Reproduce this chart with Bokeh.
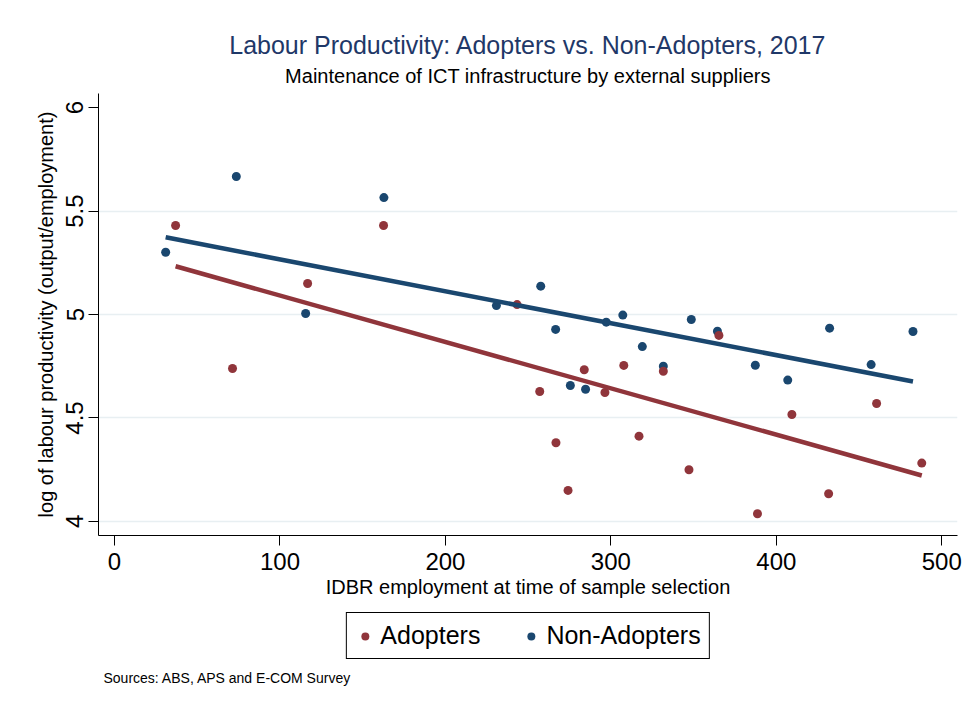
import numpy as np
from bokeh.plotting import figure
from bokeh.layouts import column
from bokeh.models import Range1d, FixedTicker, Legend, LegendItem, Title, Label
from bokeh.embed import file_html
from bokeh.resources import INLINE

# ---------------- data ----------------
adopters_emp = [36.9, 71.3, 116.7, 162.6, 243.3, 257.0, 266.8, 274.1, 283.9, 296.4,
                307.8, 317.0, 331.7, 347.2, 365.3, 388.6, 409.4, 431.6, 460.6, 487.9]
adopters_lp = [5.430, 4.739, 5.150, 5.430, 5.048, 4.628, 4.380, 4.150, 4.733, 4.623,
               4.754, 4.412, 4.726, 4.250, 4.899, 4.037, 4.517, 4.134, 4.570, 4.282]

nonadopters_emp = [30.9, 73.6, 115.5, 162.8, 230.8, 257.6, 266.6, 275.5, 284.7, 297.2,
                   307.2, 319.0, 331.7, 348.6, 364.4, 387.3, 406.9, 432.2, 457.3, 482.6]
nonadopters_lp = [5.301, 5.667, 5.005, 5.565, 5.043, 5.137, 4.928, 4.657, 4.639, 4.963,
                  4.997, 4.845, 4.750, 4.976, 4.919, 4.755, 4.683, 4.934, 4.758, 4.918]

# fitted-line values read at the ends of each series' employment range
adopters_fit_lp = [5.233, 4.222]
nonadopters_fit_lp = [5.373, 4.676]

x_ticks = [0, 100, 200, 300, 400, 500]
x_tick_labels = ["0", "100", "200", "300", "400", "500"]
y_ticks = [4, 4.5, 5, 5.5, 6]
y_tick_labels = ["4", "4.5", "5", "5.5", "6"]
y_grid_ticks = [4, 4.5, 5, 5.5]

series_names = ["Adopters", "Non-Adopters"]
main_title = "Labour Productivity: Adopters vs. Non-Adopters, 2017"
sub_title = "Maintenance of ICT infrastructure by external suppliers"
x_label = "IDBR employment at time of sample selection"
y_label = "log of labour productivity (output/employment)"
source_note = "Sources: ABS, APS and E-COM Survey"

# ---------------- styles ----------------
FONT = "Liberation Sans"
RED = "#90353b"
BLUE = "#1a476f"
TITLE_COL = "#1f3868"
GRID_COL = "#e8eff2"

p = figure(width=971, height=607,
           x_range=Range1d(-9.7, 509.5), y_range=Range1d(3.932, 6.068),
           output_backend="svg", toolbar_location=None, title=None,
           min_border_left=98, min_border_right=14,
           min_border_top=93, min_border_bottom=72)
p.outline_line_color = None
p.background_fill_color = "white"
p.border_fill_color = "white"

# scatter points
r_blue = p.scatter(nonadopters_emp, nonadopters_lp, size=9, color=BLUE, line_color=None)
r_red = p.scatter(adopters_emp, adopters_lp, size=9, color=RED, line_color=None)

# fitted lines spanning each series' employment range
p.line([min(adopters_emp), max(adopters_emp)], adopters_fit_lp, line_width=4.5, color=RED)
p.line([min(nonadopters_emp), max(nonadopters_emp)], nonadopters_fit_lp, line_width=4.5, color=BLUE)

# axes
p.xaxis.ticker = FixedTicker(ticks=x_ticks)
p.xaxis.major_label_overrides = dict(zip(x_ticks, x_tick_labels))
p.yaxis.ticker = FixedTicker(ticks=y_ticks)
p.yaxis.major_label_overrides = dict(zip(y_ticks, y_tick_labels))
p.yaxis.major_label_orientation = "vertical"

for ax in (p.xaxis[0], p.yaxis[0]):
    ax.axis_line_color = "black"
    ax.axis_line_width = 1
    ax.major_tick_line_color = "black"
    ax.major_tick_out = 10
    ax.major_tick_in = 0
    ax.minor_tick_line_color = None
    ax.major_label_text_font = FONT
    ax.major_label_text_font_size = "24px"
    ax.major_label_text_color = "black"
    ax.axis_label_text_font = FONT
    ax.axis_label_text_font_size = "20px"
    ax.axis_label_text_font_style = "normal"
    ax.axis_label_text_color = "black"

p.xaxis.axis_label = x_label
p.yaxis.axis_label = y_label
p.xaxis.major_label_standoff = 7
p.xaxis.axis_label_standoff = 3
p.yaxis.major_label_standoff = 5
p.yaxis.axis_label_standoff = 7

p.xgrid.grid_line_color = None
p.ygrid.ticker = FixedTicker(ticks=y_grid_ticks)
p.ygrid.grid_line_color = GRID_COL
p.ygrid.grid_line_width = 1.5

# titles
p.add_layout(Title(text=sub_title, align="center", text_font=FONT, text_font_size="20px",
                   text_font_style="normal", text_color="black", standoff=14), "above")
p.add_layout(Title(text=main_title, align="center", text_font=FONT, text_font_size="25px",
                   text_font_style="normal", text_color=TITLE_COL, standoff=-7), "above")

# ---------------- legend + source strip ----------------
p2 = figure(width=971, height=99, x_range=Range1d(0, 1), y_range=Range1d(0, 1),
            output_backend="svg", toolbar_location=None, title=None,
            x_axis_type=None, y_axis_type=None,
            min_border_left=98, min_border_right=14, min_border_top=0, min_border_bottom=0)
p2.outline_line_color = None
p2.xgrid.grid_line_color = None
p2.ygrid.grid_line_color = None
p2.background_fill_color = "white"
p2.border_fill_color = "white"

# legend-only renderers (no visible marks)
k_red = p2.scatter([np.nan], [np.nan], size=9, color=RED, line_color=None)
k_blue = p2.scatter([np.nan], [np.nan], size=9, color=BLUE, line_color=None)

legend = Legend(items=[LegendItem(label=series_names[0], renderers=[k_red]),
                       LegendItem(label=series_names[1], renderers=[k_blue])],
                orientation="horizontal", location="top_center",
                label_text_font=FONT, label_text_font_size="25px", label_text_color="black",
                border_line_color="black", border_line_width=1, border_line_alpha=1,
                background_fill_alpha=1, padding=8, spacing=40,
                glyph_width=20, glyph_height=20, label_standoff=6, margin=5)
p2.add_layout(legend, "center")

p2.add_layout(Label(x=5 / 859, y=29 / 99, text=source_note, text_font=FONT,
                    text_font_size="14px", text_color="black", text_baseline="middle"))

layout = column(p, p2, spacing=0)
open("out.html", "w").write(file_html(layout, INLINE))
